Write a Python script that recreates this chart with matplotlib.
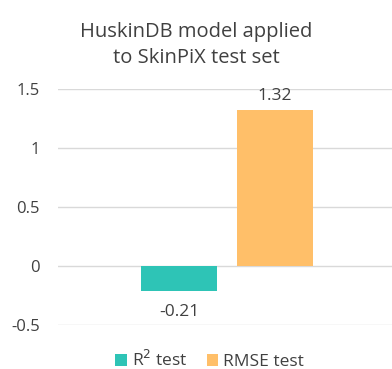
import matplotlib.pyplot as plt

series = ["R$^2$ test", "RMSE test"]
values = [-0.21, 1.32]
value_labels = ["-0.21", "1.32"]
colors = ["#2EC4B6", "#FFBF69"]
yticks = [-0.5, 0, 0.5, 1, 1.5]
ytick_labels = ["-0.5", "0", "0.5", "1", "1.5"]

plt.rcParams['font.family'] = ['Open Sans', 'DejaVu Sans']
text_color = "#404040"

fig = plt.figure(figsize=(3.92, 3.69), dpi=100)
ax = fig.add_axes([0.148, 0.1192, 0.852, 0.6396])

pos = [0, 1]
bars = ax.bar(pos, values, width=0.79, color=colors, label=series, zorder=3)

for x, v, lab in zip(pos, values, value_labels):
    if v >= 0:
        ax.text(x, v + 0.05, lab, ha="center", va="bottom", fontsize=12.5, color=text_color)
    else:
        ax.text(x, v - 0.11, lab, ha="center", va="top", fontsize=12.5, color=text_color)

ax.set_xlim(-1.26, 2.22)
ax.set_ylim(-0.5, 1.5)
ax.set_yticks(yticks)
ax.set_yticklabels(ytick_labels)
ax.set_xticks([])
ax.tick_params(axis="y", length=0, pad=13, labelsize=12, labelcolor=text_color)
ax.grid(axis="y", color="#d9d9d9", linewidth=1, zorder=0)
for s in ax.spines.values():
    s.set_visible(False)

fig.text(0.5, 0.878, "HuskinDB model applied\nto SkinPiX test set", ha="center", va="center",
         fontsize=14.5, color=text_color, linespacing=1.45)

fig.legend(handles=bars, labels=series, loc="center", bbox_to_anchor=(0.535, 0.025),
           ncol=2, frameon=False, fontsize=12.5, labelcolor=text_color,
           handlelength=0.65, handleheight=0.65, handletextpad=0.3, columnspacing=1.1)

fig.savefig("out.png", dpi=100)
